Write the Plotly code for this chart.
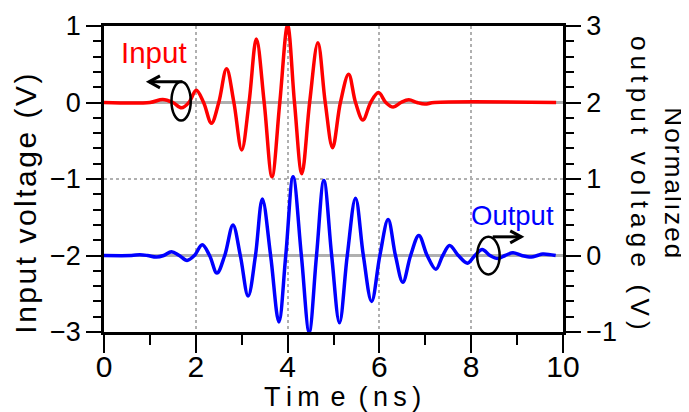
import plotly.graph_objects as go

# ---- data ----
input_t = [0.0, 1.0, 1.28, 1.5, 1.69, 1.85, 2.01, 2.17, 2.34, 2.50, 2.67, 2.83, 3.00, 3.16,
           3.32, 3.49, 3.66, 3.83, 4.00, 4.15, 4.31, 4.48, 4.66, 4.82, 4.98, 5.15, 5.33,
           5.48, 5.64, 5.81, 5.98, 6.14, 6.30, 6.47, 6.64, 6.82, 6.99, 7.2, 9.85]
input_v = [0.0, 0.0, 0.04, 0.0, -0.07, 0.0, 0.16, 0.0, -0.27, 0.0, 0.44, 0.0, -0.62, 0.0,
           0.83, 0.0, -0.97, 0.0, 1.01, 0.0, -0.93, 0.0, 0.78, 0.0, -0.59, 0.0, 0.37,
           0.0, -0.23, 0.0, 0.13, 0.0, -0.06, 0.0, 0.035, 0.0, -0.02, 0.0, 0.0]

output_t = [0.0, 0.6, 0.78, 0.95, 1.14, 1.3, 1.47, 1.64, 1.81, 1.97, 2.14, 2.30, 2.46, 2.63,
            2.81, 2.97, 3.14, 3.30, 3.45, 3.63, 3.81, 3.96, 4.12, 4.30, 4.47, 4.63, 4.79,
            4.96, 5.13, 5.30, 5.48, 5.65, 5.83, 6.01, 6.19, 6.35, 6.51, 6.68, 6.86, 7.04,
            7.23, 7.38, 7.53, 7.72, 7.92, 8.08, 8.24, 8.41, 8.58, 8.74, 8.91, 9.1, 9.31,
            9.44, 9.56, 9.84]
output_v = [0.0, 0.0, 0.01, 0.0, -0.02, 0.0, 0.05, 0.0, -0.065, 0.0, 0.14, 0.0, -0.23, 0.0,
            0.40, 0.0, -0.53, 0.0, 0.74, 0.0, -0.87, 0.0, 1.03, 0.0, -1.0, 0.0, 0.98,
            0.0, -0.88, 0.0, 0.75, 0.0, -0.60, 0.0, 0.47, 0.0, -0.35, 0.0, 0.26, 0.0,
            -0.18, 0.0, 0.13, 0.0, -0.10, 0.0, 0.08, 0.0, -0.04, 0.0, 0.035, 0.0, -0.02,
            0.0, 0.02, 0.0]

x_ticks = [0, 2, 4, 6, 8, 10]
left_ticks = [1, 0, -1, -2, -3]
right_ticks = [3, 2, 1, 0, -1]

# annotation markers (ellipse bounds / arrow ends in data units)
input_ellipse = [1.47, -0.235, 1.89, 0.27]
input_arrow = [1.71, 0.98, 0.27]        # tail x, head x, y
output_ellipse = [8.13, -0.248, 8.62, 0.244]
output_arrow = [8.47, 9.09, 0.244]

FONT = "Liberation Sans, Arial, sans-serif"
TS = "\u2009"
HS = "\u200a"

def spaced(s, sep):
    return sep.join(list(s))

fig = go.Figure()
fig.add_trace(go.Scatter(x=input_t, y=input_v, mode="lines", yaxis="y",
                         line=dict(color="#ff0000", width=3.5, shape="spline", smoothing=1.0),
                         showlegend=False))
fig.add_trace(go.Scatter(x=output_t, y=output_v, mode="lines", yaxis="y2",
                         line=dict(color="#0000ff", width=3.5, shape="spline", smoothing=1.0),
                         showlegend=False))

axis_common = dict(showline=True, linecolor="black", linewidth=2.5, ticks="outside",
                   tickcolor="black", tickwidth=2)

fig.update_layout(
    width=681, height=404,
    margin=dict(l=96, r=126, t=18, b=80, autoexpand=False),
    paper_bgcolor="white", plot_bgcolor="white",
    font=dict(family=FONT, color="black"),
    xaxis=dict(range=[0, 10], tickvals=x_ticks, ticklen=18, mirror=True,
               ticklabelstandoff=-12,
               tickfont=dict(family=FONT, size=30, color="black"),
               showgrid=True, gridcolor="#b0b0b0", gridwidth=2, griddash="dot",
               zeroline=False,
               minor=dict(dtick=1, ticks="outside", ticklen=10, tickcolor="black", tickwidth=2, showgrid=False),
               **axis_common),
    yaxis=dict(range=[-3, 1], tickvals=left_ticks, ticklen=15,
               tickfont=dict(family=FONT, size=27, color="black"),
               showgrid=True, gridcolor="#b0b0b0", gridwidth=2, griddash="dot",
               zeroline=True, zerolinecolor="#b0b0b0", zerolinewidth=2.5,
               minor=dict(dtick=0.2, ticks="outside", ticklen=8, tickcolor="black", tickwidth=2, showgrid=False),
               **axis_common),
    yaxis2=dict(range=[-1, 3], tickvals=right_ticks, ticklen=15, overlaying="y", side="right",
                tickfont=dict(family=FONT, size=27, color="black"),
                showgrid=False, zeroline=True, zerolinecolor="#b0b0b0", zerolinewidth=2.5,
                minor=dict(dtick=0.2, ticks="outside", ticklen=8, tickcolor="black", tickwidth=2, showgrid=False),
                **axis_common),
)

shapes = []
shapes.append(dict(type="circle", xref="x", yref="y", x0=input_ellipse[0], y0=input_ellipse[1],
                   x1=input_ellipse[2], y1=input_ellipse[3], line=dict(color="black", width=2.5)))
shapes.append(dict(type="circle", xref="x", yref="y2", x0=output_ellipse[0], y0=output_ellipse[1],
                   x1=output_ellipse[2], y1=output_ellipse[3], line=dict(color="black", width=2.5)))
shapes.append(dict(type="line", xref="x", yref="y", x0=input_arrow[0], x1=input_arrow[1],
                   y0=input_arrow[2], y1=input_arrow[2], line=dict(color="black", width=3)))
shapes.append(dict(type="line", xref="x", yref="y2", x0=output_arrow[0], x1=output_arrow[1],
                   y0=output_arrow[2], y1=output_arrow[2], line=dict(color="black", width=3)))
shapes.append(dict(type="path", xref="x", yref="y", xsizemode="pixel", ysizemode="pixel",
                   xanchor=input_arrow[1], yanchor=input_arrow[2],
                   path="M 11,6 L 0,0 L 11,-6", line=dict(color="black", width=3)))
shapes.append(dict(type="path", xref="x", yref="y2", xsizemode="pixel", ysizemode="pixel",
                   xanchor=output_arrow[1], yanchor=output_arrow[2],
                   path="M -11,6 L 0,0 L -11,-6", line=dict(color="black", width=3)))
fig.update_layout(shapes=shapes)

ann = []
ann.append(dict(text="Input", x=1.1, y=0.66, xref="x", yref="y", showarrow=False,
                font=dict(family=FONT, size=29.5, color="#ff0000")))
ann.append(dict(text="Output", x=8.9, y=0.52, xref="x", yref="y2", showarrow=False,
                font=dict(family=FONT, size=27.5, color="#0000ff")))
ann.append(dict(text=spaced("Input voltage (V)", HS), x=-0.173, y=0.418, xref="paper", yref="paper",
                textangle=-90, showarrow=False, xanchor="center", yanchor="middle",
                font=dict(family=FONT, size=30, color="black")))
ann.append(dict(text=spaced("Normalized", HS) + "<br>" + spaced("output voltage (V)", TS),
                x=1.205, y=0.487, xref="paper", yref="paper", textangle=90, showarrow=False,
                xanchor="center", yanchor="middle",
                font=dict(family=FONT, size=26, color="black")))
ann.append(dict(text="T" + TS + "i" + TS + "m" + TS + TS + "e" + TS + " " + "(" + TS + "n" + TS + "s" + TS + ")",
                x=0.52, y=0.0, xref="paper", yref="paper", yshift=-65,
                showarrow=False, xanchor="center", yanchor="middle",
                font=dict(family=FONT, size=27, color="black")))
fig.update_layout(annotations=ann)

fig.write_html("out.html")
